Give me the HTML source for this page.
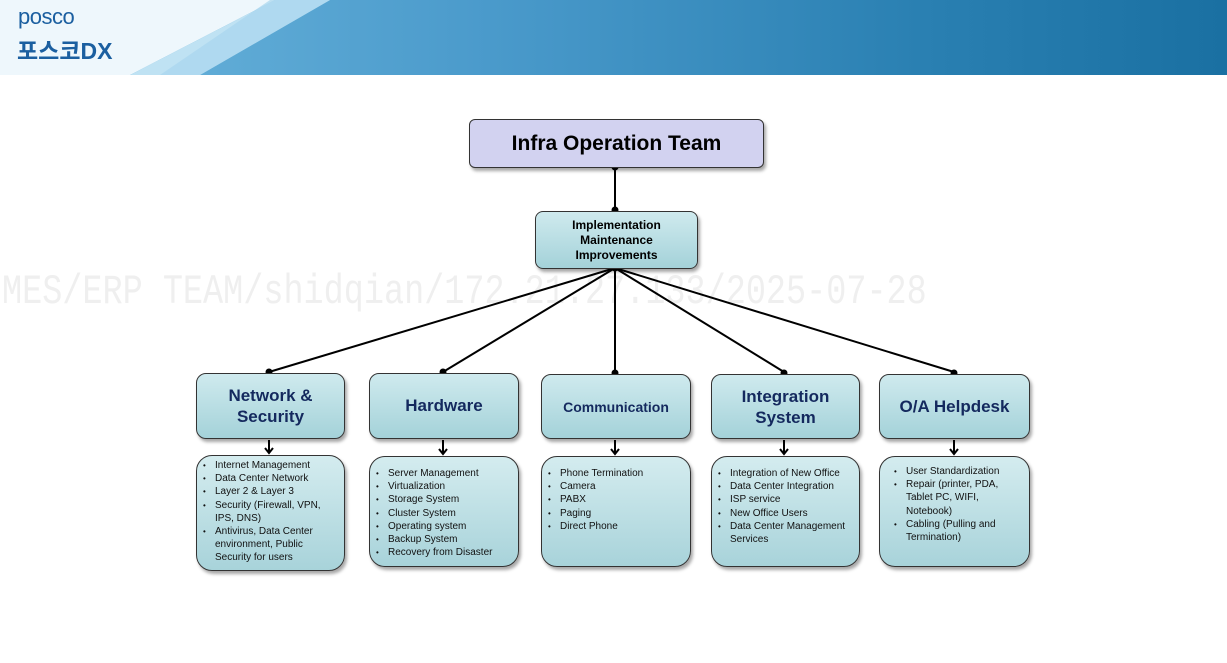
<!DOCTYPE html>
<html><head><meta charset="utf-8"><style>
body{margin:0;width:1227px;height:663px;background:#fff;position:relative;overflow:hidden;font-family:"Liberation Sans",sans-serif}
.hdr{position:absolute;left:0;top:0;width:1227px;height:75px;background:linear-gradient(90deg,#6fb8de 0%,#4a9acb 40%,#2a80b2 75%,#1a70a2 100%)}
.b{position:absolute;box-sizing:border-box;border:1.5px solid #333;border-radius:10px;background:linear-gradient(180deg,#cfeaee 0%,#a4d2d9 100%);box-shadow:2px 3px 3px rgba(0,0,0,.35);display:flex;align-items:center;justify-content:center;text-align:center;color:#14295e;font-weight:bold}
.d{position:absolute;box-sizing:border-box;border:1.5px solid #333;border-radius:16px;background:linear-gradient(180deg,#d4ecef 0%,#a8d3da 100%);box-shadow:2px 3px 3px rgba(0,0,0,.35);font-size:10px;color:#111;line-height:13.2px;padding:4px 6px 0 6px}
.d ul{margin:0;padding-left:12px}
.d li{list-style:none;position:relative}
.d li:before{content:"•";position:absolute;left:-12px;font-size:8px}
.wm{position:absolute;left:2px;top:269px;font-family:"Liberation Mono",monospace;font-size:33.5px;color:#efefef;transform:scaleY(1.25);transform-origin:top left;white-space:nowrap}
</style></head><body>
<div class="hdr"></div>
<svg style="position:absolute;left:0;top:0" width="1227" height="75">
<polygon points="0,0 275,0 130,75 0,75" fill="#eef7fc"/>
<polygon points="130,75 275,0 330,0 200,75" fill="#bfe2f3"/>
<polygon points="200,75 330,0 270,0 160,75" fill="#a8d6ee" opacity=".7"/>
</svg>
<div style="position:absolute;left:18px;top:4px;font-size:22px;color:#1b5fa0;letter-spacing:-0.5px">posco</div>
<div style="position:absolute;left:17px;top:32px;font-size:23px;font-weight:bold;color:#1b5fa0;font-family:'Liberation Sans','Noto Sans CJK KR',sans-serif">포스코DX</div>
<div class="wm">MES/ERP TEAM/shidqian/172.21.27.133/2025-07-28</div>
<svg style="position:absolute;left:0;top:0" width="1227" height="663">
<g stroke="#000" stroke-width="2" fill="none">
<line x1="615" y1="167" x2="615" y2="210"/>
<line x1="615" y1="268" x2="269" y2="372"/>
<line x1="615" y1="268" x2="443" y2="372"/>
<line x1="615" y1="268" x2="615" y2="372"/>
<line x1="615" y1="268" x2="784" y2="372"/>
<line x1="615" y1="268" x2="954" y2="372"/>
<g>
<line x1="269" y1="440" x2="269" y2="453"/><polyline points="265,448 269,453 273,448"/>
<line x1="443" y1="440" x2="443" y2="454"/><polyline points="439,449 443,454 447,449"/>
<line x1="615" y1="440" x2="615" y2="454"/><polyline points="611,449 615,454 619,449"/>
<line x1="784" y1="440" x2="784" y2="454"/><polyline points="780,449 784,454 788,449"/>
<line x1="954" y1="440" x2="954" y2="454"/><polyline points="950,449 954,454 958,449"/>
</g></g>
<g fill="#000"><circle cx="615" cy="167" r="3.5"/><circle cx="615" cy="210" r="3.5"/><circle cx="615" cy="268" r="3.5"/>
<circle cx="269" cy="372" r="3.5"/><circle cx="443" cy="372" r="3.5"/><circle cx="615" cy="373" r="3.5"/><circle cx="784" cy="373" r="3.5"/><circle cx="954" cy="373" r="3.5"/></g>
</svg>
<div class="b" style="left:469px;top:119px;width:295px;height:49px;background:#d2d2f0;color:#000;font-size:21px;border-radius:6px">Infra Operation Team</div>
<div class="b" style="left:535px;top:211px;width:163px;height:58px;color:#000;font-size:12px;line-height:15px;border-radius:8px">Implementation<br>Maintenance<br>Improvements</div>
<div class="b" style="left:196px;top:373px;width:149px;height:66px;font-size:17px;line-height:21px">Network &amp;<br>Security</div>
<div class="b" style="left:369px;top:373px;width:150px;height:66px;font-size:17px">Hardware</div>
<div class="b" style="left:541px;top:374px;width:150px;height:65px;font-size:14px">Communication</div>
<div class="b" style="left:711px;top:374px;width:149px;height:65px;font-size:17px;line-height:21px">Integration<br>System</div>
<div class="b" style="left:879px;top:374px;width:151px;height:65px;font-size:17px">O/A Helpdesk</div>
<div class="d" style="left:196px;top:455px;width:149px;height:116px;padding-top:3px"><ul><li>Internet Management</li><li>Data Center Network</li><li>Layer 2 &amp; Layer 3</li><li>Security (Firewall, VPN, IPS, DNS)</li><li>Antivirus, Data Center environment, Public Security for users</li></ul></div>
<div class="d" style="left:369px;top:456px;width:150px;height:111px;padding-top:10px"><ul><li>Server Management</li><li>Virtualization</li><li>Storage System</li><li>Cluster System</li><li>Operating system</li><li>Backup System</li><li>Recovery from Disaster</li></ul></div>
<div class="d" style="left:541px;top:456px;width:150px;height:111px;padding-top:10px"><ul><li>Phone Termination</li><li>Camera</li><li>PABX</li><li>Paging</li><li>Direct Phone</li></ul></div>
<div class="d" style="left:711px;top:456px;width:149px;height:111px;padding-top:10px"><ul><li>Integration of New Office</li><li>Data Center Integration</li><li>ISP service</li><li>New Office Users</li><li>Data Center Management Services</li></ul></div>
<div class="d" style="left:879px;top:456px;width:151px;height:111px;padding-top:8px;padding-left:14px"><ul><li>User Standardization</li><li>Repair (printer, PDA, Tablet PC, WIFI, Notebook)</li><li>Cabling (Pulling and Termination)</li></ul></div>
</body></html>
